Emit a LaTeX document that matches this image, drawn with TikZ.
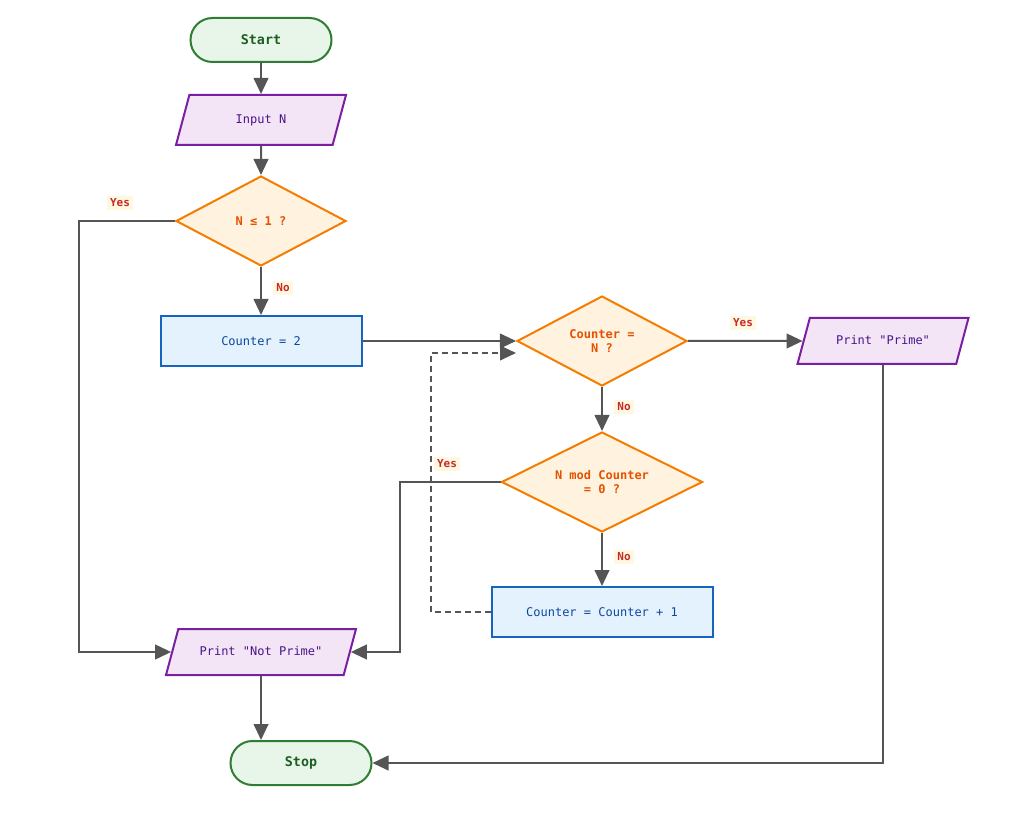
\documentclass[tikz,border=0pt]{standalone}
\usepackage{fontspec}
\setmonofont{DejaVu Sans Mono}
\usepackage{xcolor}
\usetikzlibrary{positioning,arrows.meta,shapes.geometric}

\definecolor{termfill}{HTML}{E8F5E9}
\definecolor{termdraw}{HTML}{2E7D32}
\definecolor{termtext}{HTML}{1B5E20}
\definecolor{iofill}{HTML}{F3E5F5}
\definecolor{iodraw}{HTML}{7B1FA2}
\definecolor{iotext}{HTML}{4A148C}
\definecolor{decfill}{HTML}{FFF3E0}
\definecolor{decdraw}{HTML}{F57C00}
\definecolor{dectext}{HTML}{E65100}
\definecolor{procfill}{HTML}{E3F2FD}
\definecolor{procdraw}{HTML}{1565C0}
\definecolor{proctext}{HTML}{0D47A1}
\definecolor{flowline}{HTML}{555555}
\definecolor{labtext}{HTML}{C62828}
\definecolor{labfill}{HTML}{FFF8E1}

\begin{document}
\begin{tikzpicture}[
		x=0.75pt, y=-0.75pt,
		font=\ttfamily\fontsize{9}{11}\selectfont,
		term/.style={
			draw=termdraw, fill=termfill, text=termtext,
			line width=1.5pt, rounded corners=16.5pt,
			minimum width=105.75pt, minimum height=33pt,
			inner sep=0pt, font=\ttfamily\fontsize{10}{12}\selectfont\bfseries
		},
		io/.style={
			trapezium, trapezium left angle=75, trapezium right angle=105,
			trapezium stretches body,
			draw=iodraw, fill=iofill, text=iotext,
			line width=1.5pt, inner xsep=0pt, inner ysep=12.75pt,
			text height=7pt, text depth=2pt
		},
		decision/.style={
			diamond, aspect=2, draw=decdraw, fill=decfill, text=dectext,
			line width=1.5pt, inner sep=0pt, align=center,
			minimum width=127.5pt, minimum height=67.5pt,
			font=\ttfamily\fontsize{9}{11}\selectfont\bfseries
		},
		process/.style={
			rectangle, draw=procdraw, fill=procfill, text=proctext,
			line width=1.5pt, inner sep=0pt,
			minimum height=37.5pt
		},
		flow/.style={
			draw=flowline, line width=1.5pt,
			-{Triangle[length=12pt,width=11pt]}
		},
		lab/.style={
			fill=labfill, text=labtext, inner sep=2.5pt,
			font=\ttfamily\fontsize{8.25}{10}\selectfont\bfseries
		}
		]
		\useasboundingbox (0,0) rectangle (1024,823);
		
		\node[term] (start) at (261,40) {Start};
		\node[io, minimum width=127.5pt, inner ysep=14.25pt] (input) at (261,120) {Input N};
		\node[decision] (isone) at (261,221) {N ≤ 1 ?};
		\node[process, minimum width=150.75pt] (count) at (261,341) {Counter = 2};
		\node[decision] (iseq) at (602,341) {Counter =\\N ?};
		\node[io, minimum width=128.25pt] (prime) at (883,341) {Print "Prime"};
		\node[decision, minimum width=150.75pt, minimum height=75pt] (ismod) at (602,482) {N mod Counter\\= 0 ?};
		\node[process, minimum width=165.75pt] (incr) at (602,612) {Counter = Counter + 1};
		\node[io, minimum width=142.5pt] (notprime) at (261,652) {Print "Not Prime"};
		\node[term] (stop) at (301,763) {Stop};
		
		\draw[flow] (start) -- (input);
		\draw[flow] (input) -- (isone);
		\draw[flow] (isone.west) -- ++(-96,0) |- (notprime.west);
		\draw[flow] (isone) -- (count);
		\draw[flow] (count) -- (iseq);
		\draw[flow] (iseq) -- (prime);
		\draw[flow] (iseq) -- (ismod);
		\draw[flow] (ismod.west) -- ++(-101,0) |- (notprime.east);
		\draw[flow] (ismod) -- (incr);
		\draw[flow, dash pattern=on 4.5pt off 3pt] (incr.west) -- ++(-60,0) |- ([yshift=-9pt]iseq.west);
		\draw[flow] (prime.south) |- (stop.east);
		\draw[flow] (notprime.south) -- (notprime.south |- stop.north);
		
		\node[lab] (yesone) at (120,203) {Yes};
		\node[lab] (noone) at (283,288) {No};
		\node[lab] (yeseq) at (743,323) {Yes};
		\node[lab] (noeq) at (624,407) {No};
		\node[lab] (yesmod) at (447,464) {Yes};
		\node[lab] (nomod) at (624,557) {No};
	\end{tikzpicture}
\end{document}
